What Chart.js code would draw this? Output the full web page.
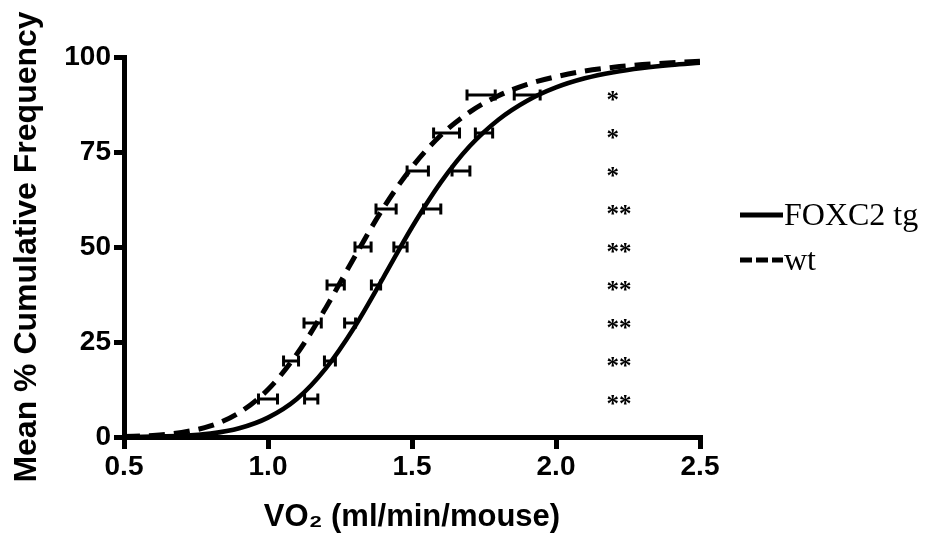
<!DOCTYPE html>
<html><head><meta charset="utf-8">
<script src="https://cdn.jsdelivr.net/npm/chart.js@4.4.1/dist/chart.umd.min.js"></script>
<style>html,body{margin:0;padding:0;background:#fff;}#wrap{width:930px;height:537px;}</style>
</head><body><div id="wrap"><canvas id="c" width="930" height="537"></canvas></div>
<script>
// ---- data ----
const curveX  = [0.5,0.6,0.7,0.8,0.9,1.0,1.1,1.2,1.3,1.4,1.5,1.6,1.7,1.8,1.9,2.0,2.1,2.2,2.3,2.4,2.5];
const tgCurve = [0.0,0.1,0.3,0.9,2.3,5.1,10.0,18.0,28.9,41.9,55.2,67.0,76.5,83.5,88.5,92.0,94.4,96.0,97.1,97.9,98.5];
const wtCurve = [0.1,0.4,1.2,2.9,6.4,12.5,21.8,33.9,47.3,60.2,71.0,79.4,85.5,89.8,92.8,94.8,96.3,97.3,98.0,98.5,98.9];
const levels  = [10,20,30,40,50,60,70,80,90];
const wtMean  = [1.00,1.08,1.155,1.235,1.33,1.41,1.52,1.62,1.74];
const wtSem   = [0.033,0.026,0.030,0.030,0.028,0.035,0.037,0.045,0.049];
const tgMean  = [1.15,1.215,1.285,1.375,1.46,1.57,1.67,1.75,1.90];
const tgSem   = [0.023,0.019,0.019,0.016,0.023,0.030,0.031,0.030,0.045];
const sigLabels = ['**','**','**','**','**','**','*','*','*'];
const sigX    = 2.175;
const xTicks  = [0.5,1.0,1.5,2.0,2.5];
const yTicks  = [0,25,50,75,100];
const seriesNames = ['FOXC2 tg','wt'];
const xTitle = 'VO\u2082 (ml/min/mouse)';
const yTitle = 'Mean % Cumulative Frequency';

const pts = (xs, ys) => xs.map((x, i) => ({x: x, y: ys[i]}));

const errorBars = {
  id: 'errorBars',
  afterDatasetsDraw(chart) {
    const {ctx, scales: {x, y}} = chart;
    const sets = [[wtMean, wtSem], [tgMean, tgSem]];
    ctx.save();
    ctx.strokeStyle = '#000';
    ctx.lineWidth = 3;
    ctx.lineCap = 'butt';
    sets.forEach(([m, s]) => {
      levels.forEach((lv, i) => {
        const py = y.getPixelForValue(lv);
        const x1 = x.getPixelForValue(m[i] - s[i]);
        const x2 = x.getPixelForValue(m[i] + s[i]);
        ctx.beginPath();
        ctx.moveTo(x1, py); ctx.lineTo(x2, py);
        ctx.moveTo(x1, py - 5.5); ctx.lineTo(x1, py + 5.5);
        ctx.moveTo(x2, py - 5.5); ctx.lineTo(x2, py + 5.5);
        ctx.stroke();
      });
    });
    // significance marks
    ctx.fillStyle = '#000';
    ctx.font = 'bold 25px "Liberation Serif"';
    ctx.textAlign = 'left';
    ctx.textBaseline = 'alphabetic';
    levels.forEach((lv, i) => {
      ctx.fillText(sigLabels[i], x.getPixelForValue(sigX), y.getPixelForValue(lv) + 13);
    });
    ctx.restore();
  }
};

const customLegend = {
  id: 'customLegend',
  afterDraw(chart) {
    const {ctx} = chart;
    ctx.save();
    chart.data.datasets.forEach((ds, i) => {
      const ly = 215 + i * 45;
      ctx.strokeStyle = '#000';
      ctx.lineWidth = 5;
      ctx.setLineDash(ds.borderDash && ds.borderDash.length ? [12, 4] : []);
      ctx.beginPath();
      ctx.moveTo(740, ly); ctx.lineTo(783, ly);
      ctx.stroke();
      ctx.setLineDash([]);
      ctx.fillStyle = '#000';
      ctx.font = '32px "Liberation Serif"';
      ctx.textAlign = 'left';
      ctx.textBaseline = 'middle';
      ctx.fillText(ds.label, 784, ly + 2);
    });
    ctx.restore();
  }
};

new Chart(document.getElementById('c'), {
  type: 'line',
  data: {
    datasets: [
      {label: seriesNames[0], data: pts(curveX, tgCurve), borderColor: '#000', borderWidth: 4.5,
       pointRadius: 0, cubicInterpolationMode: 'monotone', fill: false},
      {label: seriesNames[1], data: pts(curveX, wtCurve), borderColor: '#000', borderWidth: 5,
       borderDash: [16, 9], pointRadius: 0, cubicInterpolationMode: 'monotone', fill: false}
    ]
  },
  options: {
    responsive: false,
    animation: false,
    devicePixelRatio: 1,
    layout: {padding: {top: 57, right: 230, left: 0, bottom: 0}},
    plugins: {legend: {display: false}, tooltip: {enabled: false}},
    scales: {
      x: {
        type: 'linear', min: 0.5, max: 2.5,
        afterBuildTicks: s => { s.ticks = xTicks.map(v => ({value: v})); },
        afterFit: s => { s.height = 100; },
        ticks: {color: '#000', padding: 1, font: {family: 'Liberation Sans', weight: 'bold', size: 28},
                callback: v => Number(v).toFixed(1)},
        grid: {display: true, drawOnChartArea: false, drawTicks: true, tickLength: 12, lineWidth: 5, color: '#000'},
        border: {display: true, width: 5, color: '#000'},
        title: {display: true, text: xTitle, color: '#000', padding: {top: 0, bottom: 1},
                font: {family: 'Liberation Sans', weight: 'bold', size: 31}}
      },
      y: {
        type: 'linear', min: 0, max: 100,
        afterBuildTicks: s => { s.ticks = yTicks.map(v => ({value: v})); },
        afterFit: s => { s.width = 124; },
        ticks: {color: '#000', padding: 3, font: {family: 'Liberation Sans', weight: 'bold', size: 28}},
        grid: {display: true, drawOnChartArea: false, drawTicks: true, tickLength: 10, lineWidth: 5, color: '#000'},
        border: {display: true, width: 5, color: '#000'},
        title: {display: true, text: yTitle, color: '#000', padding: {top: 8, bottom: 0},
                font: {family: 'Liberation Sans', weight: 'bold', size: 32}}
      }
    }
  },
  plugins: [errorBars, customLegend]
});
</script></body></html>
